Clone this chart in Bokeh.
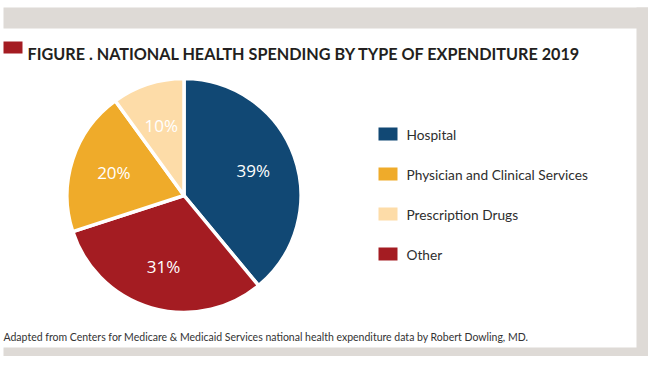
import math
from bokeh.plotting import figure
from bokeh.models import ColumnDataSource, Range1d
from bokeh.core.properties import value
from bokeh.embed import file_html
from bokeh.resources import INLINE

# ---- data ----
categories = ["Hospital", "Physician and Clinical Services", "Prescription Drugs", "Other"]
shares = [39, 20, 10, 31]
colors = ["#114874", "#efab2a", "#fddca8", "#a41c22"]
# clockwise drawing order from 12 o'clock
pie_order = ["Hospital", "Other", "Physician and Clinical Services", "Prescription Drugs"]

title = "FIGURE . NATIONAL HEALTH SPENDING BY TYPE OF EXPENDITURE 2019"
footnote = "Adapted from Centers for Medicare & Medicaid Services national health expenditure data by Robert Dowling, MD."

# ---- layout ----
W, H = 648, 356
GRAY = "#dedad6"


def Y(py):
    """convert a top-down pixel row to data y"""
    return H - py


CX, CY, R = 183.5, Y(195.0), 117.0

p = figure(width=W, height=H, output_backend="svg", toolbar_location=None,
           x_range=Range1d(0, W), y_range=Range1d(0, H), min_border=0)
p.axis.visible = False
p.grid.visible = False
p.outline_line_color = None
p.background_fill_color = "white"
p.border_fill_color = "white"

# frame bands (top, right, bottom)
p.quad(left=[3, 636, 3], right=[W, W, W],
       bottom=[Y(28), 0, 0], top=[Y(7), Y(7), Y(347)],
       fill_color=GRAY, line_color=None)

# pie
starts, ends, cols, labs, lx, ly = [], [], [], [], [], []
cum = 0.0
for name in pie_order:
    i = categories.index(name)
    v = shares[i]
    a_end = math.radians(90 - cum * 3.6)
    cum += v
    a_start = math.radians(90 - cum * 3.6)
    starts.append(a_start)
    ends.append(a_end)
    cols.append(colors[i])
    mid = (a_start + a_end) / 2
    labs.append(f"{v}%")
    lx.append(CX + 0.63 * R * math.cos(mid))
    ly.append(CY + 0.63 * R * math.sin(mid))

src = ColumnDataSource(dict(start=starts, end=ends, color=cols))
p.wedge(x=CX, y=CY, radius=R, start_angle="start", end_angle="end",
        fill_color="color", line_color="white", line_width=3.5, source=src)
p.text(x=lx, y=ly, text=labs, text_align="center", text_baseline="middle",
       text_color="white", text_font=value("Open Sans"), text_font_size="17px")

# legend
n = len(categories)
leg_y = [Y(133.5 + 40 * k) for k in range(n)]
p.rect(x=[387.5] * n, y=leg_y, width=19, height=13,
       fill_color=colors, line_color=None)
p.text(x=[406] * n, y=leg_y, text=categories, text_baseline="middle",
       text_color="#2e2e2e", text_font=value("Lato"), text_font_size="13.7px")

# title
p.quad(left=[3], right=[22], bottom=[Y(53)], top=[Y(41)], fill_color=colors[3], line_color=None)
p.text(x=[27], y=[Y(53)], text=[title], text_baseline="alphabetic",
       text_color="#231f20", text_font=value("Lato"), text_font_style="bold",
       text_font_size="16.2px")

# footnote
p.text(x=[3], y=[Y(336)], text=[footnote], text_baseline="alphabetic",
       text_color="#333333", text_font=value("Lato"), text_font_size="10.5px")

open("out.html", "w").write(file_html(p, INLINE))
